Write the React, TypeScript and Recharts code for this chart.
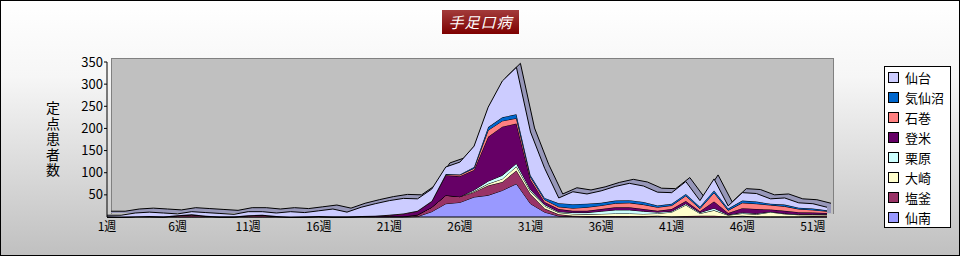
import React from 'react';
import { AreaChart, Area, XAxis, YAxis } from 'recharts';

// 定点患者数 per week, one array per area (bottom of the stack first)
const sennan = [0,0,0,0,0,0,0,0,0,0,0,0,0,0,0,0,0,0,0,0,0,0,1,12,30,33,45,49,60,75,30,11,2,1,0,0,0,0,0,2,0,0,0,0,0,2,0,0,0,0,0,0];
const shiogama = [0,0,1,1,0,3,5,2,0,0,3,4,1,0,0,1,0,0,1,1,1,1,4,10,19,13,11,22,19,30,22,8,4,2,2,2,2,2,2,1,1,2,3,3,1,1,1,1,1,1,2,3];
const osaki = [0,0,0,0,0,0,0,0,0,0,0,0,0,0,0,0,0,0,0,0,0,0,0,0,0,0,2,4,7,9,6,6,4,4,4,5,6,6,5,5,10,25,5,12,3,5,5,10,6,4,3,2];
const kurihara = [0,0,0,0,0,0,0,0,0,0,0,0,0,0,0,0,0,0,0,0,0,0,0,0,0,0,3,6,8,7,4,3,2,3,4,6,8,8,6,3,2,3,2,5,1,2,2,1,1,1,1,1];
const tome = [1,0,0,1,1,1,1,1,1,1,1,1,1,0,1,1,1,1,1,2,3,6,8,13,45,46,45,100,110,90,22,6,6,4,4,5,6,6,5,3,5,6,3,15,4,10,10,5,6,5,4,3];
const ishinomaki = [0,0,0,0,0,0,0,0,0,0,0,0,0,0,0,0,0,0,0,0,1,1,1,1,2,3,4,15,13,12,6,5,5,6,8,8,9,10,10,8,8,12,6,20,6,12,12,10,10,7,6,4];
const kesennuma = [0,0,0,0,0,0,0,0,0,0,0,0,0,0,0,0,0,0,0,0,0,0,0,0,1,1,3,7,8,9,4,4,8,9,8,6,6,6,6,4,4,4,4,5,4,5,5,3,4,3,3,2];
const sendai = [3,4,8,9,8,3,6,7,7,5,8,7,7,12,9,12,17,10,20,27,32,34,27,27,16,28,47,45,82,106,98,67,12,28,22,27,32,38,36,30,25,28,14,26,6,18,18,11,15,11,11,7];

const weeks = sendai.map((_, i) => `${i + 1}週`);
const yTicks = [50, 100, 150, 200, 250, 300, 350];

const series = [
  { key: 'sennan', name: '仙南', color: '#9999ff', values: sennan },
  { key: 'shiogama', name: '塩釜', color: '#993366', values: shiogama },
  { key: 'osaki', name: '大崎', color: '#ffffcc', values: osaki },
  { key: 'kurihara', name: '栗原', color: '#ccffff', values: kurihara },
  { key: 'tome', name: '登米', color: '#660066', values: tome },
  { key: 'ishinomaki', name: '石巻', color: '#ff8080', values: ishinomaki },
  { key: 'kesennuma', name: '気仙沼', color: '#0066cc', values: kesennuma },
  { key: 'sendai', name: '仙台', color: '#ccccff', values: sendai },
];

const data = weeks.map((week, i) => {
  const row: Record<string, number | string> = { week };
  let total = 0;
  series.forEach(s => {
    row[s.key] = s.values[i];
    total += s.values[i];
  });
  row.total = total;
  return row;
});

const font = '"Noto Sans CJK JP", sans-serif';
const W = 960;
const H = 256;
// fake 3D depth of the areas
const DX = 4;
const DY = -4;

const LegendBox = () => (
  <div
    style={{
      position: 'absolute',
      left: 883,
      top: 65,
      width: 67,
      height: 162,
      boxSizing: 'border-box',
      background: '#fff',
      border: '1px solid #000',
      padding: '0 0 0 3px',
      fontFamily: font,
      fontSize: 13,
      color: '#000',
    }}
  >
    {[...series].reverse().map(s => (
      <div key={s.key} style={{ height: 20, display: 'flex', alignItems: 'center' }}>
        <span
          style={{
            width: 9,
            height: 9,
            background: s.color,
            border: '1px solid #000',
            marginRight: 6,
            flexShrink: 0,
          }}
        />
        <span>{s.name}</span>
      </div>
    ))}
  </div>
);

export default function App() {
  return (
    <div
      style={{
        position: 'absolute',
        left: 0,
        top: 0,
        width: W,
        height: H,
        boxSizing: 'border-box',
        border: '1px solid #000',
        background: 'linear-gradient(to bottom, #ffffff 0%, #f6f6f6 30%, #c0c0c0 100%)',
        overflow: 'hidden',
      }}
    >
      {/* title */}
      <div
        style={{
          position: 'absolute',
          left: 441,
          top: 9,
          width: 77,
          height: 24,
          background: 'linear-gradient(to bottom, #a33b3b, #7d0000)',
          color: '#fff',
          fontFamily: font,
          fontSize: 15,
          fontStyle: 'italic',
          lineHeight: '24px',
          textAlign: 'center',
          letterSpacing: 1,
        }}
      >
        手足口病
      </div>

      {/* y axis title */}
      <div
        style={{
          position: 'absolute',
          left: 42,
          top: 100,
          writingMode: 'vertical-rl',
          fontFamily: font,
          fontSize: 14,
          letterSpacing: 1.5,
          color: '#000',
        }}
      >
        定点患者数
      </div>

      {/* back wall */}
      <div
        style={{
          position: 'absolute',
          left: 106 + DX,
          top: 61 + DY,
          width: 827 - 107 + 1,
          height: 217 - 62,
          background: '#c0c0c0',
          borderTop: '1px solid #808080',
          borderRight: '1px solid #808080',
          borderLeft: '1px solid #808080',
        }}
      />

      {/* top surface of the stack, shifted back */}
      <div style={{ position: 'absolute', left: DX - 1, top: DY - 1 }}>
        <AreaChart width={W} height={H} data={data} margin={{ top: 62, right: 133, bottom: 39, left: 107 }}>
          <XAxis dataKey="week" hide />
          <YAxis domain={[0, 350]} hide />
          <Area
            type="linear"
            dataKey="total"
            fill="#9797b9"
            fillOpacity={1}
            stroke="#000"
            strokeWidth={1}
            isAnimationActive={false}
          />
        </AreaChart>
      </div>

      <div style={{ position: 'absolute', left: -1, top: -1 }}>
        <AreaChart width={W} height={H} data={data} margin={{ top: 62, right: 133, bottom: 9, left: 47 }}>
          <XAxis
            dataKey="week"
            interval={4}
            height={30}
            tickSize={0}
            tickMargin={5}
            axisLine={{ stroke: '#000' }}
            tick={{ fontFamily: font, fontSize: 12, fill: '#000' }}
          />
          <YAxis
            domain={[0, 350]}
            ticks={yTicks}
            width={60}
            tickSize={3}
            tickMargin={1}
            axisLine={{ stroke: '#000' }}
            tickLine={{ stroke: '#000' }}
            tick={{ fontFamily: font, fontSize: 13, fill: '#000' }}
          />
          {series.map(s => (
            <Area
              key={s.key}
              type="linear"
              dataKey={s.key}
              name={s.name}
              stackId="a"
              fill={s.color}
              fillOpacity={1}
              stroke="#000"
              strokeWidth={1}
              isAnimationActive={false}
            />
          ))}
        </AreaChart>
      </div>

      <LegendBox />
    </div>
  );
}
